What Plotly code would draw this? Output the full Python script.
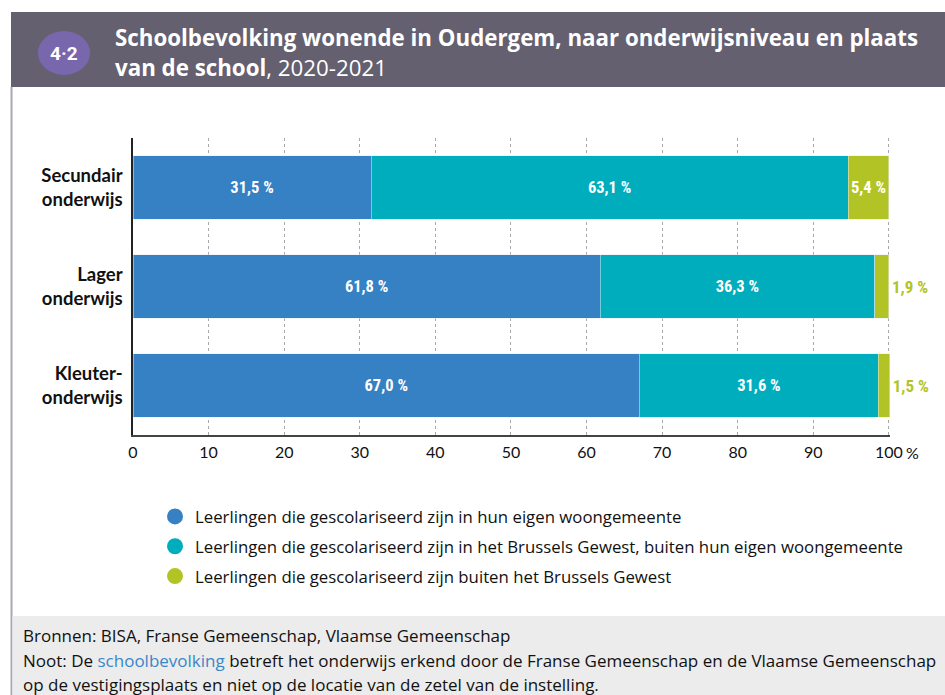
import plotly.graph_objects as go

# ---- data ----
categories = ["Secundair<br>onderwijs", "Lager<br>onderwijs", "Kleuter-<br>onderwijs"]
eigen_gemeente = [31.5, 61.8, 67.0]
brussels_gewest = [63.1, 36.3, 31.6]
buiten_brussel = [5.4, 1.9, 1.5]
series_names = [
    "Leerlingen die gescolariseerd zijn in hun eigen woongemeente",
    "Leerlingen die gescolariseerd zijn in het Brussels Gewest, buiten hun eigen woongemeente",
    "Leerlingen die gescolariseerd zijn buiten het Brussels Gewest",
]
green_positions = ["inside", "outside", "outside"]
x_ticks = [0, 10, 20, 30, 40, 50, 60, 70, 80, 90, 100]
x_ticktext = ["0", "10", "20", "30", "40", "50", "60", "70", "80", "90", "100"]

# ---- style ----
BLUE = "#3680c4"
TEAL = "#00adbd"
GREEN = "#b2c425"
HEADER = "#64606f"
BADGE = "#7867ad"

W, H = 945, 695
ML, MR, MT, MB = 133, 55, 138, 260
PW = W - ML - MR
PH = H - MT - MB


def px2x(px):
    return (px - ML) / PW


def py2y(py):
    return (H - MB - py) / PH


LABEL_FONT = "Liberation Sans Narrow, Roboto Condensed, Arial Narrow, Roboto, sans-serif"
BODY_FONT = "Open Sans, Lato, sans-serif"
TICK_FONT = "Lato, Open Sans, sans-serif"
TITLE_FONT = "Open Sans, Roboto, sans-serif"

fig = go.Figure()
bar_common = dict(
    orientation="h",
    width=0.646,
    texttemplate="%{x:.1f} %",
    textangle=0,
    constraintext="none",
    cliponaxis=False,
    showlegend=False,
    hoverinfo="skip",
    insidetextanchor="middle",
)
inside_font = dict(color="white", size=16.5, family=LABEL_FONT, weight="bold")
fig.add_trace(go.Bar(y=categories, x=eigen_gemeente, marker_color=BLUE, textposition="inside",
                     insidetextfont=inside_font, **bar_common))
fig.add_trace(go.Bar(y=categories, x=brussels_gewest, marker_color=TEAL, textposition="inside",
                     insidetextfont=inside_font, **bar_common))
fig.add_trace(go.Bar(y=categories, x=buiten_brussel, marker_color=GREEN, textposition=green_positions,
                     insidetextfont=inside_font,
                     outsidetextfont=dict(color=GREEN, size=17, family=LABEL_FONT, weight="bold"),
                     **bar_common))

# legend proxies (circles)
for i, (name, col) in enumerate(zip(series_names, [BLUE, TEAL, GREEN])):
    fig.add_trace(go.Scatter(x=[None], y=[None], mode="markers", name=name,
                             marker=dict(symbol="circle", size=18, color=col),
                             legendgroup=f"g{i}", showlegend=True))

shapes = [
    dict(type="line", xref="paper", yref="paper", x0=px2x(11.5), x1=px2x(11.5),
         y0=py2y(695), y1=py2y(87), line=dict(color="#a9a6b6", width=2), layer="below"),
    dict(type="rect", xref="paper", yref="paper", x0=px2x(11), x1=px2x(945),
         y0=py2y(87), y1=py2y(12), fillcolor=HEADER, line=dict(width=0), layer="below"),
    dict(type="circle", xref="paper", yref="paper", x0=px2x(38), x1=px2x(90),
         y0=py2y(75), y1=py2y(31), fillcolor=BADGE, line=dict(width=0), layer="below"),
    dict(type="rect", xref="paper", yref="paper", x0=px2x(12.5), x1=px2x(945),
         y0=py2y(695), y1=py2y(616), fillcolor="#ececec", line=dict(width=0), layer="below"),
]

footer_font = dict(family=BODY_FONT, size=17, color="#111")
annotations = [
    dict(text="<b>4·2</b>", xref="paper", yref="paper", x=px2x(64), y=py2y(53),
         xanchor="center", yanchor="middle", showarrow=False,
         font=dict(family="Roboto, sans-serif", size=19, color="white")),
    dict(text="<b>Schoolbevolking wonende in Oudergem, naar onderwijsniveau en plaats</b>",
         xref="paper", yref="paper", x=px2x(113), y=py2y(37), xanchor="left", yanchor="middle",
         showarrow=False, font=dict(family=TITLE_FONT, size=22.3, color="white")),
    dict(text="<b>van de school</b>, 2020-2021",
         xref="paper", yref="paper", x=px2x(113), y=py2y(67), xanchor="left", yanchor="middle",
         showarrow=False, font=dict(family=TITLE_FONT, size=22.3, color="white")),
    dict(text="%", xref="x", yref="paper", x=100, y=py2y(452), xanchor="left", yanchor="middle",
         xshift=15, showarrow=False, font=dict(family=TICK_FONT, size=16, color="#111")),
    dict(text="Bronnen: BISA, Franse Gemeenschap, Vlaamse Gemeenschap",
         xref="paper", yref="paper", x=px2x(21), y=py2y(635), xanchor="left", yanchor="middle",
         showarrow=False, font=footer_font),
    dict(text="Noot: De <span style='color:#3a87c8'>schoolbevolking</span> betreft het onderwijs erkend door de Franse Gemeenschap en de Vlaamse Gemeenschap",
         xref="paper", yref="paper", x=px2x(21), y=py2y(660), xanchor="left", yanchor="middle",
         showarrow=False, font=footer_font),
    dict(text="op de vestigingsplaats en niet op de locatie van de zetel van de instelling.",
         xref="paper", yref="paper", x=px2x(21), y=py2y(684), xanchor="left", yanchor="middle",
         showarrow=False, font=footer_font),
]

fig.update_layout(
    width=W, height=H,
    margin=dict(l=ML, r=MR, t=MT, b=MB),
    paper_bgcolor="white", plot_bgcolor="white",
    barmode="stack",
    separators=", ",
    shapes=shapes,
    annotations=annotations,
    legend=dict(x=px2x(155), y=py2y(499), xanchor="left", yanchor="top",
                orientation="v", traceorder="grouped", tracegroupgap=5,
                font=dict(family=BODY_FONT, size=16.8, color="#111"),
                bgcolor="rgba(0,0,0,0)"),
    xaxis=dict(range=[0, 100.15], tickvals=x_ticks, ticktext=x_ticktext,
               showgrid=True, gridcolor="#a8a8a8", griddash="dot", gridwidth=1,
               zeroline=False, showline=True, linecolor="#444", linewidth=1.5,
               ticks="", ticklabelstandoff=2,
               tickfont=dict(family=TICK_FONT, size=16, color="#111")),
    yaxis=dict(autorange="reversed", showgrid=False, zeroline=False,
               showline=True, linecolor="#222", linewidth=1.5, ticks="",
               ticklabelstandoff=5,
               tickfont=dict(family=TICK_FONT, size=18.5, color="#111", weight="bold")),
)

fig.write_html("out.html", config={"displayModeBar": False},
               post_script="document.body.style.margin='0';")
